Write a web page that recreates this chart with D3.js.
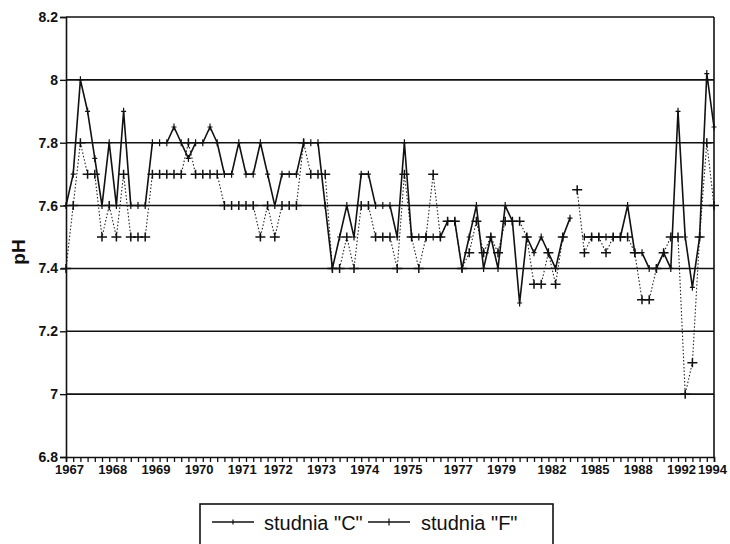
<!DOCTYPE html>
<html>
<head>
<meta charset="utf-8">
<script src="https://cdn.jsdelivr.net/npm/d3@7"></script>
<style>
  body { margin: 0; background: #fff; }
  text { font-family: "Liberation Sans", Arial, sans-serif; fill: #111; }
</style>
</head>
<body>
<script>
// category axis: one slot per measurement, year label at some of them
const yearLabels = ["1967","1968","1969","1970","1971","1972","1973","1974","1975","1977","1979","1982","1985","1988","1992","1994"];
const labelIndex = [0,6,12,18,24,29,35,41,47,54,60,67,73,79,85,90];
const yTicks = [6.8, 7, 7.2, 7.4, 7.6, 7.8, 8, 8.2];

// studnia "C" (solid)
const studniaC = [
  7.6, 7.7, 8.0, 7.9, 7.75, 7.6, 7.8, 7.6, 7.9, 7.6,
  7.6, 7.6, 7.8, 7.8, 7.8, 7.85, 7.8, 7.75, 7.8, 7.8,
  7.85, 7.8, 7.7, 7.7, 7.8, 7.7, 7.7, 7.8, 7.7, 7.6,
  7.7, 7.7, 7.7, 7.8, 7.8, 7.8, 7.6, 7.4, 7.5, 7.6,
  7.5, 7.7, 7.7, 7.6, 7.6, 7.6, 7.5, 7.8, 7.5, 7.5,
  7.5, 7.5, 7.5, 7.55, 7.55, 7.4, 7.5, 7.6, 7.4, 7.5,
  7.4, 7.6, 7.55, 7.29, 7.5, 7.45, 7.5, 7.45, 7.4, 7.5,
  7.56, null, 7.5, 7.5, 7.5, 7.5, 7.5, 7.5, 7.6, 7.45,
  7.45, 7.4, 7.4, 7.45, 7.4, 7.9, 7.5, 7.34, 7.5, 8.02,
  7.85
];

// studnia "F" (dotted)
const studniaF = [
  7.4, 7.6, 7.8, 7.7, 7.7, 7.5, 7.6, 7.5, 7.7, 7.5,
  7.5, 7.5, 7.7, 7.7, 7.7, 7.7, 7.7, 7.8, 7.7, 7.7,
  7.7, 7.7, 7.6, 7.6, 7.6, 7.6, 7.6, 7.5, 7.6, 7.5,
  7.6, 7.6, 7.6, 7.8, 7.7, 7.7, 7.7, 7.4, 7.4, 7.5,
  7.4, 7.6, 7.6, 7.5, 7.5, 7.5, 7.4, 7.7, 7.5, 7.4,
  7.5, 7.7, 7.5, 7.55, 7.55, 7.4, 7.45, 7.55, 7.45, 7.5,
  7.45, 7.55, 7.55, 7.55, 7.5, 7.35, 7.35, 7.45, 7.35, 7.5,
  null, 7.65, 7.45, 7.5, 7.5, 7.45, 7.5, 7.5, 7.5, 7.45,
  7.3, 7.3, 7.4, 7.45, 7.5, 7.5, 7.0, 7.1, 7.5, 7.8,
  7.6
];

const W = 730, H = 544;
const plotL = 66, plotR = 714, plotT = 17, plotB = 457;

const svg = d3.select("body").append("svg")
  .attr("width", W).attr("height", H);

const x = d3.scalePoint()
  .domain(d3.range(studniaC.length))
  .range([plotL, plotR]);

const y = d3.scaleLinear()
  .domain([6.8, 8.2])
  .range([plotB, plotT]);

// horizontal grid
svg.append("g")
  .selectAll("line")
  .data(yTicks.filter(d => d > 6.8))
  .join("line")
  .attr("x1", plotL).attr("x2", plotR)
  .attr("y1", d => y(d)).attr("y2", d => y(d))
  .attr("stroke", "#111")
  .attr("stroke-width", 1.6);

// right border
svg.append("line")
  .attr("x1", plotR).attr("x2", plotR)
  .attr("y1", plotT).attr("y2", plotB)
  .attr("stroke", "#111").attr("stroke-width", 1.6);

// y axis
const yAxis = svg.append("g")
  .attr("transform", `translate(${plotL},0)`)
  .call(d3.axisLeft(y).tickValues(yTicks).tickSize(6).tickPadding(2)
    .tickFormat(d => +d.toFixed(1)));
yAxis.select(".domain").attr("stroke", "#111").attr("stroke-width", 1.6);
yAxis.selectAll(".tick line").attr("stroke", "#111").attr("stroke-width", 1.4);
yAxis.selectAll("text")
  .style("font-family", "'Liberation Sans', Arial, sans-serif")
  .style("font-size", "14px").style("font-weight", "bold").attr("fill", "#111");

// x axis
const labelOf = new Map(labelIndex.map((k, j) => [k, yearLabels[j]]));
const xAxis = svg.append("g")
  .attr("transform", `translate(0,${plotB})`)
  .call(d3.axisBottom(x).tickSize(5).tickPadding(3)
    .tickFormat(i => labelOf.get(i) || ""));
xAxis.select(".domain").attr("stroke", "#111").attr("stroke-width", 1.6);
xAxis.selectAll(".tick line").attr("stroke", "#111").attr("stroke-width", 1.3);
xAxis.selectAll("text")
  .attr("dx", i => i === labelIndex[labelIndex.length - 1] ? -2 : 3)
  .style("font-family", "'Liberation Sans', Arial, sans-serif")
  .style("font-size", "13px").style("font-weight", "bold").attr("fill", "#111");

// y title
svg.append("text")
  .attr("transform", "translate(25,252) rotate(-90)")
  .attr("text-anchor", "middle")
  .style("font-size", "19px")
  .style("font-weight", "bold")
  .text("pH");

const line = d3.line()
  .defined(d => d != null)
  .x((d, i) => x(i))
  .y(d => y(d));

function cross(g, data, hw, hh, sw) {
  g.selectAll("path")
    .data(data.map((v, i) => [i, v]).filter(d => d[1] != null))
    .join("path")
    .attr("d", d => {
      const cx = x(d[0]), cy = y(d[1]);
      return `M${cx - hw},${cy}H${cx + hw}M${cx},${cy - hh}V${cy + hh}`;
    })
    .attr("stroke", "#111")
    .attr("stroke-width", sw)
    .attr("fill", "none");
}

// studnia F: dotted line, large crosses
svg.append("path")
  .attr("d", line(studniaF))
  .attr("fill", "none")
  .attr("stroke", "#222")
  .attr("stroke-width", 1.1)
  .attr("stroke-dasharray", "1.5,2");
cross(svg.append("g"), studniaF, 5, 4.5, 1.5);

// studnia C: solid line, small ticks
svg.append("path")
  .attr("d", line(studniaC))
  .attr("fill", "none")
  .attr("stroke", "#111")
  .attr("stroke-width", 1.6)
  .attr("stroke-linejoin", "round");
cross(svg.append("g"), studniaC, 2.5, 3.5, 1.2);

// legend
const lg = svg.append("g");
lg.append("rect")
  .attr("x", 200).attr("y", 504)
  .attr("width", 353).attr("height", 50)
  .attr("fill", "#fff").attr("stroke", "#111").attr("stroke-width", 1.6);

const legendItems = [
  { name: 'studnia "C"', x1: 212, x2: 254, tx: 264, hh: 2.5 },
  { name: 'studnia "F"', x1: 368, x2: 410, tx: 421, hh: 3.5 }
];
legendItems.forEach(d => {
  lg.append("line")
    .attr("x1", d.x1).attr("x2", d.x2).attr("y1", 522).attr("y2", 522)
    .attr("stroke", "#111").attr("stroke-width", 1.4);
  const m = (d.x1 + d.x2) / 2;
  lg.append("line")
    .attr("x1", m).attr("x2", m).attr("y1", 522 - d.hh).attr("y2", 522 + d.hh)
    .attr("stroke", "#111").attr("stroke-width", 1.2);
  lg.append("text")
    .attr("x", d.tx).attr("y", 530)
    .style("font-size", "20px")
    .text(d.name);
});
</script>
</body>
</html>
